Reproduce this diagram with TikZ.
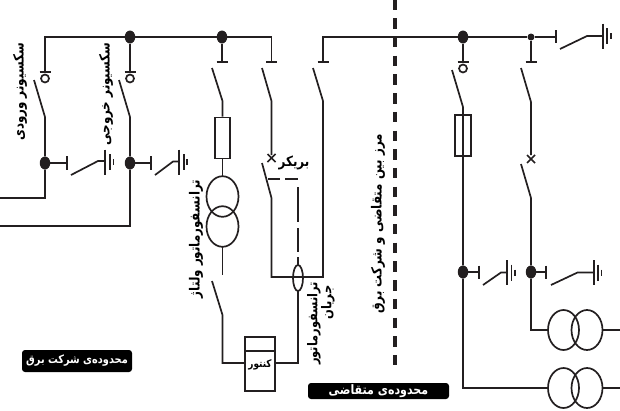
\documentclass[tikz,border=0pt]{standalone}
\usepackage{fontspec}
\usetikzlibrary{shapes.geometric}
\TeXXeTstate=1
\newfontfamily\arabicfont[Script=Arabic,FakeStretch=0.85]{DejaVu Sans Bold}
\definecolor{ink}{HTML}{231F20}
\tikzset{
  wire/.style={draw=ink,line width=1.7pt},
  dot/.style={ellipse,fill=ink,draw=none,inner sep=0pt,minimum width=10.5pt,minimum height=13pt},
  smalldot/.style={circle,fill=ink,draw=none,inner sep=0pt,minimum size=7pt},
  lbl/.style={font=\arabicfont\fontsize{14}{16}\selectfont,text=black,inner sep=0pt},
  ctlbl/.style={font=\arabicfont\fontsize{13.5}{15}\selectfont,text=black,inner sep=0pt},
  tag/.style={fill=black,rounded corners=3pt,text=white,inner sep=0pt,align=center},
  pics/bar/.style={code={\draw[wire] (-5.5,0) -- (5.5,0);}},
  pics/ring/.style={code={
    \draw[wire] (-5.5,0) -- (5.5,0);
    \draw[wire] (0,6.5) circle (4);}},
  pics/xmark/.style={code={\draw[wire] (-4,-4) -- (4,4) (-4,4) -- (4,-4);}},
  pics/earth/.style args={#1/#2/#3}{code={
    \draw[wire] (#1,-12.5) -- (#1,12.5);
    \draw[wire] (#2,-8) -- (#2,8);
    \draw[wire] (#3,-3) -- (#3,3);}}
}
\begin{document}
\begin{tikzpicture}[x=1pt,y=-1pt]
\useasboundingbox (0,0) rectangle (620,410);
% bus nodes
\coordinate (inTop) at (45,37);
\coordinate (brTop) at (271.5,37);
\coordinate (cTop) at (323,37);
\coordinate (busEnd) at (556,37);
\node[dot] (j2) at (130,37) {};
\node[dot] (j3) at (222,37) {};
\node[dot] (j4) at (463,37) {};
\node[smalldot] (j5) at (531,37) {};
\node[dot] (g1) at (45,163) {};
\node[dot] (g2) at (130,163) {};
\node[dot] (g3) at (463,272) {};
\node[dot] (g4) at (531,272) {};
% dashed boundary
\draw[draw=ink,line width=4.6pt,dash pattern=on 10.4pt off 8.3pt] (395,-0.4) -- (395,366);
% buses
\draw[wire] (45,72) -- (inTop) -- (j2) -- (j3) -- (brTop) -- (271.5,62);
\draw[wire] (323,62) -- (cTop) -- (j4) -- (j5) -- (busEnd);
\draw[wire] (556,30) -- (556,43);
% drops from bus
\draw[wire] (j2) -- (130,72);
\draw[wire] (j3) -- (222,62);
\draw[wire] (j4) -- (463,62);
\draw[wire] (j5) -- (531,62);
% isolators left
\pic at (45,72) {ring};
\pic at (130,72) {ring};
\pic at (222,62) {bar};
\pic at (271.5,62) {bar};
\pic at (323,62) {bar};
\pic at (463,62) {ring};
\pic at (531,62) {bar};
\draw[wire] (34,80) -- (45,117) -- (g1) -- (45,198) -- (0,198);
\draw[wire] (119,80) -- (130,117) -- (g2) -- (130,226) -- (0,226);
% earth switches
\draw[wire] (g1) -- (67,163) (67,156) -- (67,170);
\draw[wire] (71,175) -- (98,161) -- (105,161);
\pic at (105,162) {earth=0/5/8.5};
\draw[wire] (g2) -- (151,163) (151,156) -- (151,170);
\draw[wire] (155,175) -- (173,161.5) -- (179,161.5);
\pic at (179,162) {earth=0/5/8};
% VT branch
\node[draw=ink,line width=1.7pt,minimum width=15.5pt,minimum height=41pt,inner sep=0pt] (fuse1) at (222.5,138) {};
\draw[wire] (212,68) -- (222.5,101) -- (fuse1.north);
\draw[wire] (222.5,196.5) ++(16,0) arc[x radius=16,y radius=20.3,start angle=0,end angle=360];
\draw[wire] (222.5,226.5) ++(16,0) arc[x radius=16,y radius=20.3,start angle=0,end angle=360];
\draw[wire] (fuse1.south) -- (222.5,176);
\draw[wire] (222.5,247) -- (222.5,275);
% meter
\node[draw=ink,line width=1.7pt,minimum width=30pt,minimum height=54pt,inner sep=0pt] (meter) at (260,364) {};
\draw[wire] (245,351) -- (275,351);
\node[font=\arabicfont\fontsize{10.5}{12}\selectfont,inner sep=0pt] (meterText) at (260,365) {\beginR کنتور\endR};
\draw[wire] (212,281) -- (222.5,315) -- (222.5,363) -- (245,363);
\draw[wire] (275,363) -- (298,363) -- (298,291);
% breaker branch
\draw[wire] (262,68) -- (271.5,101) -- (271.5,155);
\pic at (271.5,158) {xmark};
\draw[wire] (262,163) -- (271.5,198) -- (271.5,277) -- (323,277) -- (323,101) -- (313,68);
\draw[wire] (268,179) -- (280,179) (285,179) -- (298,179);
\draw[wire] (298,187) -- (298,222) (298,228) -- (298,252) (298,257) -- (298,265);
\draw[wire] (298,278) ++(5,0) arc[x radius=5,y radius=13,start angle=0,end angle=360];
% right side
\node[draw=ink,line width=1.7pt,minimum width=16pt,minimum height=41pt,inner sep=0pt] (fuse2) at (463,135.5) {};
\draw[wire] (452,70) -- (463,107) -- (g3) -- (463,388) -- (548,388);
\draw[wire] (521,68) -- (531,102) -- (531,155);
\pic at (531,159) {xmark};
\draw[wire] (521,164) -- (531,198) -- (g4) -- (531,330) -- (548,330);
\draw[wire] (g3) -- (479,272) (479,265.5) -- (479,279);
\draw[wire] (483,285) -- (501,272.5) -- (507,272.5);
\pic at (507,272.5) {earth=0/4.5/8};
\draw[wire] (g4) -- (546,272) (546,265.5) -- (546,279);
\draw[wire] (551,285) -- (577.5,272.5) -- (594,272.5);
\pic at (594,272.5) {earth=0/3.7/7.5};
\draw[wire] (560,49) -- (587,36) -- (603,36);
\pic at (603,36) {earth=0/4/8};
% transformers
\foreach \yy in {330,388}{
  \draw[wire] (563.5,\yy) ++(15.5,0) arc[x radius=15.5,y radius=20,start angle=0,end angle=360];
  \draw[wire] (587,\yy) ++(15.5,0) arc[x radius=15.5,y radius=20,start angle=0,end angle=360];
  \draw[wire] (602.5,\yy) -- (620,\yy);
}
% labels
\node[lbl,rotate=90] (tIn) at (20,92) {\beginR سکسیونر ورودی\endR};
\node[lbl,rotate=90] (tOut) at (106,94) {\beginR سکسیونر خروجی\endR};
\node[lbl,rotate=90] (tVT) at (196,239) {\beginR ترانسفورماتور ولتاژ\endR};
\node[lbl] (tBr) at (294,163) {\beginR بریکر\endR};
\node[lbl,rotate=90] (tBound) at (378,224) {\beginR مرز بین متقاضی و شرکت برق\endR};
\node[ctlbl,rotate=90] (tCT1) at (314,323.5) {\beginR ترانسفورماتور\endR};
\node[ctlbl,rotate=90] (tCT2) at (328,302.5) {\beginR جریان\endR};
\node[tag,minimum width=110pt,minimum height=22pt,font=\arabicfont\fontsize{11.5}{13}\selectfont] (areaA) at (77,361) {\beginR محدوده‌ی شرکت برق\endR};
\node[tag,minimum width=141pt,minimum height=16pt,font=\arabicfont\fontsize{13}{13}\selectfont] (areaB) at (378.5,391) {\beginR محدوده‌ی متقاضی\endR};
\end{tikzpicture}
\end{document}
